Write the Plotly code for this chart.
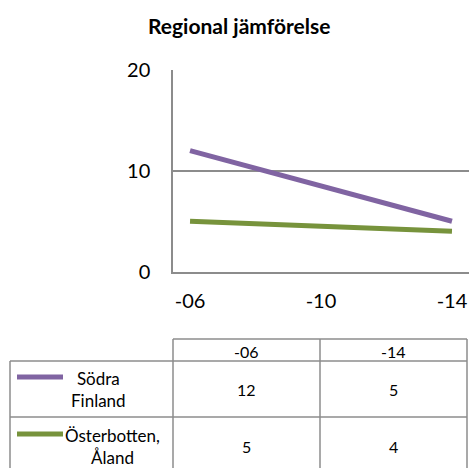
import plotly.graph_objects as go

# ── Data ────────────────────────────────────────────────────────────────────
years = [2006, 2014]
tick_vals = [2006, 2010, 2014]
tick_text = ["-06", "-10", "-14"]
series_names = ["Södra<br>Finland", "Österbotten,<br>Åland"]
sodra = [12, 5]
osterbotten = [5, 4]
series_values = [sodra, osterbotten]
table_header = ["-06", "-14"]

COLORS = ["#8064A2", "#77933C"]
GRID = "#8c8c8c"
FONT = "Lato, Open Sans, sans-serif"

W, H = 469, 468


def px(x):
    return x / W


def py(y):
    return 1 - y / H


fig = go.Figure()
for name, vals, clr in zip(series_names, series_values, COLORS):
    fig.add_trace(go.Scatter(
        x=years, y=vals, mode="lines", name=name.replace("<br>", " "),
        line=dict(color=clr, width=5),
    ))

# ── Data table below the plot ──────────────────────────────────────────────
shapes = []
line = dict(color=GRID, width=1.5)
shapes.append(dict(type="line", xref="paper", yref="paper",
                   x0=px(173), x1=px(467), y0=py(339), y1=py(339), line=line))
for yy in (361, 417):
    shapes.append(dict(type="line", xref="paper", yref="paper",
                       x0=px(10), x1=px(467), y0=py(yy), y1=py(yy), line=line))
for xx, ytop in ((10, 361), (173, 339), (320, 339), (467, 339)):
    shapes.append(dict(type="line", xref="paper", yref="paper",
                       x0=px(xx), x1=px(xx), y0=py(ytop), y1=py(H), line=line))


def note(text, x, y, size=16):
    return dict(text=text, xref="paper", yref="paper", x=px(x), y=py(y),
                xanchor="center", yanchor="middle", showarrow=False, align="center",
                font=dict(size=size, color="#000000", family=FONT))


annotations = [note("<b>Regional jämförelse</b>", 239, 25, size=21)]

col_centers = [246, 393]
row_centers = [389, 446]
for h, cx in zip(table_header, col_centers):
    annotations.append(note(h, cx, 351))

label_centers = [98, 112]
for i, (name, vals, clr) in enumerate(zip(series_names, series_values, COLORS)):
    cy = row_centers[i]
    key_y = cy - 12
    shapes.append(dict(type="line", xref="paper", yref="paper",
                       x0=px(17), x1=px(63), y0=py(key_y), y1=py(key_y),
                       line=dict(color=clr, width=5)))
    annotations.append(note(name, label_centers[i], cy, size=17))
    for v, cx in zip(vals, col_centers):
        annotations.append(note(str(v), cx, cy))

fig.update_layout(
    width=W, height=H,
    margin=dict(l=0, r=0, t=0, b=0),
    paper_bgcolor="white", plot_bgcolor="white",
    showlegend=False,
    font=dict(family=FONT, size=20, color="#000000"),
    shapes=shapes, annotations=annotations,
)
fig.update_xaxes(
    domain=[px(173), 1], range=[2005.48, 2014.52],
    tickvals=tick_vals, ticktext=tick_text,
    showgrid=False, zeroline=False, showline=True, linecolor=GRID, linewidth=1.5,
    ticks="", ticklabelstandoff=11, automargin=False,
    tickfont=dict(size=20, family=FONT),
)
fig.update_yaxes(
    domain=[py(271.7), py(70)], range=[0, 20], tickvals=[0, 10, 20],
    showgrid=True, gridcolor=GRID, gridwidth=1.5,
    zeroline=False, showline=True, linecolor=GRID, linewidth=1.5,
    ticks="", ticklabelstandoff=17, automargin=False,
    tickfont=dict(size=20, family=FONT),
)

fig.write_html("out.html", config={"displayModeBar": False},
               post_script="document.body.style.margin='0';")
